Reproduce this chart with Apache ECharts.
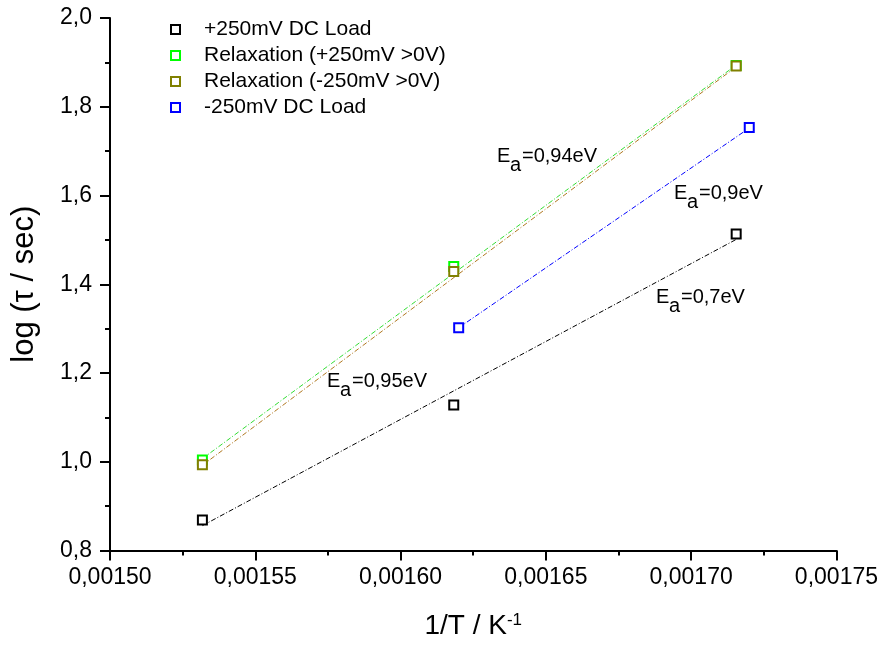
<!DOCTYPE html>
<html>
<head>
<meta charset="utf-8">
<script src="https://cdn.jsdelivr.net/npm/echarts@6/dist/echarts.min.js"></script>
<style>html,body{margin:0;padding:0;background:#fff;}#c{width:881px;height:645px;}</style>
</head>
<body>
<div id="c"></div>
<script>
// ---- data ----
const seriesNames = ['+250mV DC Load', 'Relaxation (+250mV >0V)', 'Relaxation (-250mV >0V)', '-250mV DC Load'];
const seriesColors = ['#000000', '#00ff00', '#808000', '#0000ff'];
const fitColors = ['#000000', '#33dd33', '#b07820', '#0000ff'];
const xPlus250 = [0.0015318, 0.0016183, 0.0017155];
const yPlus250 = [0.869, 1.128, 1.513];
const xRelaxPlus = [0.0015318, 0.0016183, 0.0017155];
const yRelaxPlus = [1.004, 1.440, 1.893];
const xRelaxMinus = [0.0015318, 0.0016183, 0.0017155];
const yRelaxMinus = [0.993, 1.429, 1.892];
const xMinus250 = [0.0016200, 0.0017200];
const yMinus250 = [1.302, 1.753];
// linear fit end points
const fitPlus250 = [[0.0015318, 0.856], [0.0017155, 1.501]];
const fitRelaxPlus = [[0.0015318, 1.007], [0.0017155, 1.894]];
const fitRelaxMinus = [[0.0015318, 0.992], [0.0017155, 1.890]];
const fitMinus250 = [[0.0016200, 1.302], [0.0017200, 1.752]];
const annotations = ['=0,94eV', '=0,9eV', '=0,7eV', '=0,95eV'];

const xs = [xPlus250, xRelaxPlus, xRelaxMinus, xMinus250];
const ys = [yPlus250, yRelaxPlus, yRelaxMinus, yMinus250];
const fits = [fitPlus250, fitRelaxPlus, fitRelaxMinus, fitMinus250];

const FONT = 'Liberation Sans, Arial, sans-serif';
const chart = echarts.init(document.getElementById('c'), null, {renderer: 'canvas'});

const series = [];
seriesNames.forEach((n, i) => {
  series.push({
    name: n, type: 'scatter', symbol: 'rect', symbolSize: 9, z: 5,
    itemStyle: {color: '#ffffff', borderColor: seriesColors[i], borderWidth: 2, opacity: 1},
    data: xs[i].map((x, k) => [x, ys[i][k]])
  });
});
fits.forEach((f, i) => {
  series.push({
    name: 'fit' + i, type: 'line', symbol: 'none', silent: true, z: 3,
    lineStyle: {color: fitColors[i], width: 1, type: [5, 2, 1, 2]},
    data: f
  });
});

const annPos = [[497, 146], [674, 183], [656, 287], [327, 371]];
const graphic = [];
annotations.forEach((t, i) => {
  const [x, y] = annPos[i];
  graphic.push({type: 'text', left: x, top: y, style: {text: 'E', font: '20px ' + FONT, fill: '#000'}});
  graphic.push({type: 'text', left: x + 13, top: y + 9, style: {text: 'a', font: '20px ' + FONT, fill: '#000'}});
  graphic.push({type: 'text', left: x + 25, top: y, style: {text: t, font: '20px ' + FONT, fill: '#000'}});
});

chart.setOption({
  backgroundColor: '#ffffff',
  animation: false,
  grid: {left: 110, right: 43, top: 18, bottom: 94, containLabel: false},
  legend: {
    data: seriesNames, orient: 'vertical', left: 165, top: 14,
    itemWidth: 9, itemHeight: 9, itemGap: 5,
    itemStyle: {color: '#ffffff', borderWidth: 2},
    textStyle: {fontFamily: FONT, fontSize: 21, color: '#000', padding: [0, 0, 0, 19], lineHeight: 20}
  },
  xAxis: {
    type: 'value', min: 0.0015, max: 0.00175, interval: 0.00005,
    axisLine: {show: true, onZero: false, lineStyle: {color: '#000', width: 2}},
    axisTick: {show: true, inside: false, length: 10, lineStyle: {color: '#000', width: 2}},
    minorTick: {show: true, splitNumber: 2, length: 5, lineStyle: {color: '#000', width: 2}},
    splitLine: {show: false},
    axisLabel: {fontFamily: FONT, fontSize: 23, color: '#000', margin: 16,
      formatter: v => v.toFixed(5).replace('.', ',')},
    name: '1/T / K{s|-1}', nameLocation: 'middle', nameGap: 61,
    nameTextStyle: {fontFamily: FONT, fontSize: 28, color: '#000',
      rich: {s: {fontFamily: FONT, fontSize: 17, color: '#000', verticalAlign: 'top', padding: [0, 0, 12, 0]}}}
  },
  yAxis: {
    type: 'value', min: 0.8, max: 2.0, interval: 0.2,
    axisLine: {show: true, onZero: false, lineStyle: {color: '#000', width: 2}},
    axisTick: {show: true, inside: false, length: 10, lineStyle: {color: '#000', width: 2}},
    minorTick: {show: true, splitNumber: 2, length: 5, lineStyle: {color: '#000', width: 2}},
    splitLine: {show: false},
    axisLabel: {fontFamily: FONT, fontSize: 23, color: '#000', margin: 18,
      formatter: v => v.toFixed(1).replace('.', ',')},
    name: 'log (τ / sec)', nameLocation: 'middle', nameGap: 70, nameRotate: 90,
    nameTextStyle: {fontFamily: FONT, fontSize: 31, color: '#000'}
  },
  series: series,
  graphic: graphic
});
</script>
</body>
</html>
